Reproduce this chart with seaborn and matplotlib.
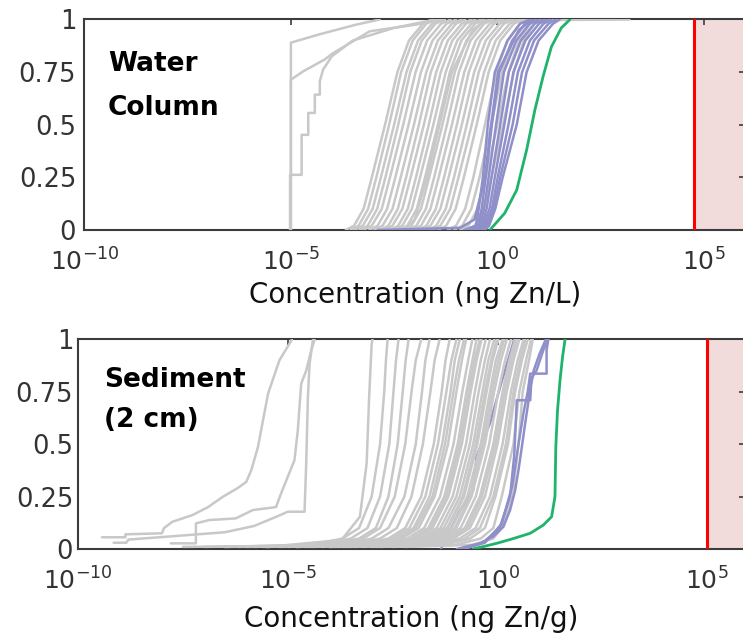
import matplotlib
matplotlib.use('Agg')
import numpy as np
import pandas as pd
import seaborn as sns
import matplotlib.pyplot as plt
from matplotlib.ticker import NullLocator

# ---- data: log10 concentration ----
# cdf levels shared by the smooth curves
top_levels = [0.0, 0.02, 0.1, 0.25, 0.5, 0.75, 0.9, 0.98, 1.0]
bot_levels = [0.01, 0.02, 0.05, 0.1, 0.25, 0.5, 0.75, 0.9, 1.0]

# water column, gray runs (one row per run, values at top_levels)
top_gray = [
    [-3.67, -3.47, -3.24, -3.04, -2.72, -2.42, -2.14, -1.80, -1.57],
    [-3.55, -3.36, -3.13, -2.93, -2.62, -2.33, -2.05, -1.72, -1.50],
    [-3.46, -3.26, -3.02, -2.82, -2.50, -2.20, -1.92, -1.58, -1.35],
    [-3.34, -3.14, -2.91, -2.71, -2.40, -2.11, -1.83, -1.50, -1.27],
    [-3.24, -3.04, -2.80, -2.60, -2.28, -1.98, -1.70, -1.36, -1.13],
    [-3.10, -2.90, -2.67, -2.47, -2.15, -1.85, -1.57, -1.23, -1.00],
    [-2.98, -2.78, -2.54, -2.34, -2.02, -1.72, -1.44, -1.10, -0.87],
    [-2.84, -2.64, -2.41, -2.21, -1.90, -1.61, -1.33, -1.00, -0.78],
    [-2.74, -2.54, -2.30, -2.10, -1.78, -1.48, -1.20, -0.86, -0.63],
    [-2.60, -2.40, -2.17, -1.97, -1.66, -1.37, -1.09, -0.76, -0.53],
    [-2.50, -2.30, -2.07, -1.87, -1.55, -1.25, -0.97, -0.63, -0.40],
    [-2.38, -2.18, -1.95, -1.75, -1.44, -1.15, -0.87, -0.54, -0.32],
    [-2.28, -2.08, -1.85, -1.65, -1.33, -1.03, -0.75, -0.41, -0.18],
    [-2.16, -1.96, -1.73, -1.53, -1.22, -0.93, -0.65, -0.32, -0.10],
    [-2.05, -1.85, -1.62, -1.42, -1.10, -0.80, -0.52, -0.18, 0.05],
    [-1.92, -1.72, -1.49, -1.29, -0.98, -0.69, -0.41, -0.08, 0.14],
    [-1.82, -1.62, -1.38, -1.18, -0.86, -0.56, -0.28, 0.06, 0.29],
    [-1.68, -1.48, -1.25, -1.05, -0.74, -0.45, -0.17, 0.16, 0.38],
    [-1.58, -1.38, -1.14, -0.94, -0.62, -0.32, -0.04, 0.30, 0.53],
    [-1.44, -1.24, -1.01, -0.81, -0.50, -0.21, 0.07, 0.40, 0.62],
    [-1.20, -1.00, -0.78, -0.58, -0.30, -0.02, 0.24, 0.55, 0.75],
    [-1.05, -0.85, -0.63, -0.43, -0.15, 0.12, 0.38, 0.68, 0.88],
    [-0.90, -0.70, -0.48, -0.28, 0.00, 0.27, 0.52, 0.80, 0.98],
    [-0.75, -0.55, -0.34, -0.14, 0.14, 0.40, 0.64, 0.90, 1.05],
]
# water column, gray runs with their own steps
top_step_a_x = [-5.0, -5.0, -4.3, -3.41, -2.85]
top_step_a_y = [0.0, 0.89, 0.93, 0.976, 1.0]
top_step_b_x = [-5.0, -5.0, -4.70, -4.18, -3.98, -3.09, -1.96, -1.40]
top_step_b_y = [0.0, 0.714, 0.754, 0.81, 0.84, 0.944, 0.976, 1.0]
top_step_c_x = [-5.02, -5.02, -4.74, -4.74, -4.58, -4.58, -4.42, -4.42,
                -4.30, -4.30, -4.22, -4.01, -3.50, -2.50, -1.50]
top_step_c_y = [0.0, 0.262, 0.262, 0.452, 0.452, 0.556, 0.556, 0.643,
                0.643, 0.706, 0.762, 0.825, 0.90, 0.96, 1.0]
top_tail_x = [-2.30, -2.00, -1.70, -1.40, -1.10, -0.60, -0.30, 3.20]
top_tail_y = [0.0, 0.05, 0.25, 0.5, 0.75, 0.95, 0.995, 1.0]

# water column, purple runs (values at top_levels)
top_purple = [
    [-0.80, -0.52, -0.45, -0.35, -0.23, -0.06, 0.25, 0.55, 0.79],
    [-0.73, -0.47, -0.38, -0.28, -0.13, 0.05, 0.36, 0.67, 0.89],
    [-0.66, -0.43, -0.32, -0.21, -0.03, 0.16, 0.46, 0.78, 0.99],
    [-0.59, -0.38, -0.26, -0.14, 0.07, 0.28, 0.57, 0.90, 1.10],
    [-0.52, -0.34, -0.19, -0.06, 0.17, 0.39, 0.68, 1.01, 1.20],
    [-0.45, -0.29, -0.13, 0.01, 0.27, 0.50, 0.79, 1.12, 1.30],
    [-0.37, -0.25, -0.09, 0.07, 0.37, 0.60, 0.89, 1.24, 1.41],
    [-0.30, -0.20, -0.05, 0.13, 0.47, 0.71, 1.00, 1.35, 1.51],
]
top_purple_tail_x = [-2.90, -0.90, -0.55, -0.30, -0.15, 0.02, 0.52, 0.85]
top_purple_tail_y = [0.0, 0.01, 0.05, 0.25, 0.5, 0.75, 0.95, 1.0]

top_green_x = [-0.18, 0.18, 0.47, 0.71, 0.91, 1.11, 1.31, 1.55, 1.76]
top_green_y = [0.0, 0.08, 0.19, 0.38, 0.57, 0.73, 0.87, 0.96, 1.0]

# sediment, gray runs (values at bot_levels)
bot_gray = [
    [-6.5, -4.40, -3.70, -3.30, -3.00, -2.80, -2.70, -2.66, -2.62],
    [-6.2, -4.20, -3.50, -3.10, -2.80, -2.58, -2.48, -2.42, -2.36],
    [-5.8, -4.00, -3.30, -2.90, -2.60, -2.38, -2.26, -2.19, -2.12],
    [-5.5, -3.90, -3.20, -2.80, -2.45, -2.20, -2.05, -1.95, -1.82],
    [-7.0, -3.70, -3.00, -2.60, -2.22, -1.95, -1.80, -1.72, -1.62],
    [-5.0, -3.50, -2.80, -2.40, -2.05, -1.78, -1.60, -1.50, -1.38],
    [-6.0, -3.30, -2.60, -2.20, -1.82, -1.52, -1.33, -1.24, -1.14],
    [-4.6, -3.20, -2.50, -2.10, -1.72, -1.42, -1.22, -1.10, -0.98],
    [-4.8, -3.10, -2.40, -2.00, -1.62, -1.32, -1.12, -1.02, -0.90],
    [-5.6, -3.05, -2.35, -1.95, -1.55, -1.25, -1.05, -0.92, -0.80],
    [-5.5, -3.00, -2.28, -1.88, -1.50, -1.18, -0.98, -0.85, -0.75],
    [-4.5, -2.85, -2.15, -1.75, -1.37, -1.05, -0.84, -0.70, -0.60],
    [-7.5, -2.75, -2.05, -1.65, -1.27, -0.95, -0.74, -0.60, -0.50],
    [-4.4, -2.70, -2.00, -1.60, -1.22, -0.90, -0.69, -0.55, -0.42],
    [-4.2, -2.65, -1.95, -1.55, -1.17, -0.85, -0.64, -0.50, -0.38],
    [-5.2, -2.55, -1.85, -1.45, -1.07, -0.75, -0.54, -0.40, -0.28],
    [-4.0, -2.46, -1.76, -1.36, -0.98, -0.66, -0.45, -0.30, -0.18],
    [-6.5, -2.38, -1.68, -1.28, -0.90, -0.58, -0.36, -0.22, -0.08],
    [-3.9, -2.30, -1.60, -1.20, -0.83, -0.52, -0.30, -0.15, -0.02],
    [-3.8, -2.28, -1.58, -1.18, -0.80, -0.48, -0.26, -0.12, 0.02],
    [-4.8, -2.20, -1.50, -1.10, -0.72, -0.40, -0.18, -0.04, 0.12],
    [-3.7, -2.10, -1.42, -1.02, -0.66, -0.35, -0.13, 0.02, 0.16],
    [-3.5, -2.05, -1.38, -0.98, -0.62, -0.30, -0.08, 0.08, 0.22],
    [-4.0, -1.95, -1.28, -0.88, -0.52, -0.20, 0.02, 0.18, 0.32],
    [-3.2, -1.85, -1.18, -0.78, -0.42, -0.10, 0.12, 0.28, 0.42],
    [-3.4, -1.75, -1.10, -0.72, -0.37, -0.05, 0.17, 0.33, 0.46],
    [-3.6, -1.70, -1.05, -0.66, -0.30, 0.00, 0.22, 0.38, 0.52],
    [-3.0, -1.50, -0.90, -0.52, -0.18, 0.12, 0.32, 0.48, 0.62],
    [-2.9, -1.35, -0.78, -0.42, -0.10, 0.20, 0.38, 0.54, 0.66],
    [-2.8, -1.25, -0.65, -0.30, -0.05, 0.25, 0.42, 0.58, 0.72],
    [-2.5, -1.00, -0.40, -0.10, 0.10, 0.38, 0.52, 0.68, 0.80],
    [-2.2, -0.60, -0.10, 0.10, 0.36, 0.50, 0.60, 0.75, 0.84],
]
bot_l1_x = [-9.43, -8.87, -8.87, -8.00, -7.95, -7.75, -7.27, -6.90, -6.55,
            -6.20, -5.99, -5.87, -5.71, -5.47, -5.20, -4.96, -4.90]
bot_l1_y = [0.056, 0.056, 0.07, 0.075, 0.10, 0.13, 0.162, 0.20, 0.249,
            0.29, 0.32, 0.376, 0.487, 0.741, 0.90, 0.98, 1.0]
bot_l2_x = [-7.79, -7.19, -7.19, -6.88, -6.24, -5.83, -5.28, -5.16, -4.84,
            -4.76, -4.68, -4.56, -4.44, -4.36]
bot_l2_y = [0.027, 0.027, 0.122, 0.138, 0.146, 0.186, 0.20, 0.265, 0.424,
            0.567, 0.789, 0.852, 0.948, 1.0]
bot_l3_x = [-9.15, -8.85, -8.80, -7.80, -6.50, -5.80, -5.20, -5.00, -4.60,
            -4.56, -4.52, -4.48, -4.40]
bot_l3_y = [0.03, 0.03, 0.045, 0.06, 0.08, 0.11, 0.16, 0.178, 0.178,
            0.408, 0.725, 0.884, 1.0]
bot_g1_x = [-5.50, -3.72, -3.28, -3.12, -3.06, -3.00, -2.98]
bot_g1_y = [0.01, 0.043, 0.154, 0.408, 0.725, 0.98, 1.0]

# sediment, purple runs
bot_p1_x = [-0.97, -0.42, -0.10, 0.14, 0.30, 0.42, 0.50, 0.58, 0.66, 0.73,
            0.78, 0.93, 1.09, 1.21]
bot_p1_y = [0.0, 0.027, 0.06, 0.106, 0.186, 0.28, 0.376, 0.487, 0.60, 0.694,
            0.805, 0.852, 0.948, 1.0]
bot_p2_x = [-0.85, -0.35, 0.05, 0.30, 0.40, 0.46, 0.78, 0.80, 0.86, 1.00, 1.15]
bot_p2_y = [0.0, 0.03, 0.10, 0.25, 0.45, 0.71, 0.71, 0.78, 0.85, 0.93, 1.0]
bot_p3_x = [-0.80, -0.30, 0.10, 0.35, 0.50, 0.62, 0.72, 0.78, 1.17, 1.17, 1.21]
bot_p3_y = [0.0, 0.03, 0.12, 0.30, 0.50, 0.65, 0.75, 0.837, 0.837, 0.948, 1.0]
bot_p4_x = [-1.35, -1.13, -0.89, -0.58, -0.50, -0.38, -0.18, 0.10, 0.40]
bot_p4_y = [0.0, 0.09, 0.186, 0.28, 0.44, 0.503, 0.60, 0.80, 1.0]

bot_green_x = [-0.58, -0.02, 0.38, 0.78, 1.09, 1.29, 1.37, 1.39, 1.43, 1.49,
               1.55, 1.61]
bot_green_y = [0.0, 0.027, 0.05, 0.075, 0.114, 0.154, 0.25, 0.487, 0.66,
               0.805, 0.916, 1.0]

# threshold (red line) for each compartment
top_threshold = 5.8e4
bot_threshold = 1.0e5

x_ticks = [1e-10, 1e-5, 1e0, 1e5]
x_tick_labels = ['$10^{-10}$', '$10^{-5}$', '$10^{0}$', '$10^{5}$']
y_ticks = [0, 0.25, 0.5, 0.75, 1]
y_tick_labels = ['0', '0.25', '0.5', '0.75', '1']

palette = {'gray': '#c8c8c8', 'purple_under': '#8f8fca', 'purple': '#8f8fca',
           'green': '#1fb36b'}


def to_frame(runs, group):
    rows = []
    for k, (xs, ys) in enumerate(runs):
        for x, y in zip(xs, ys):
            rows.append((10.0 ** x, y, f'{group}{k}', group))
    return pd.DataFrame(rows, columns=['conc', 'cdf', 'run', 'group'])


top_df = pd.concat([
    to_frame([(r, top_levels) for r in top_gray]
             + [(top_step_a_x, top_step_a_y), (top_step_b_x, top_step_b_y),
                (top_step_c_x, top_step_c_y), (top_tail_x, top_tail_y)], 'gray'),
    to_frame([(r, top_levels) for r in top_purple]
             + [(top_purple_tail_x, top_purple_tail_y)], 'purple'),
])
top_green = to_frame([(top_green_x, top_green_y)], 'green')

bot_df = pd.concat([
    to_frame([(bot_p4_x, bot_p4_y)], 'purple_under'),
    to_frame([(r, bot_levels) for r in bot_gray]
             + [(bot_l1_x, bot_l1_y), (bot_l2_x, bot_l2_y),
                (bot_l3_x, bot_l3_y), (bot_g1_x, bot_g1_y)], 'gray'),
    to_frame([(bot_p1_x, bot_p1_y), (bot_p2_x, bot_p2_y),
              (bot_p3_x, bot_p3_y)], 'purple'),
])
bot_green = to_frame([(bot_green_x, bot_green_y)], 'green')

sns.set_style('white')
plt.rcParams['font.family'] = ['DejaVu Sans']
plt.rcParams['mathtext.default'] = 'regular'

fig = plt.figure(figsize=(7.43, 6.33), dpi=100)
ax_top = fig.add_axes([0.1137, 0.6367, 0.889, 0.3325])
ax_bot = fig.add_axes([0.1050, 0.1327, 0.8977, 0.3310])

panels = [
    (ax_top, top_df, top_green, top_threshold, 10 ** 6.0,
     'Concentration (ng Zn/L)', ['Water', 'Column'], 0.0356, [0.754, 0.548], 6, -0.345),
    (ax_bot, bot_df, bot_green, bot_threshold, 10 ** 5.9,
     'Concentration (ng Zn/g)', ['Sediment', '(2 cm)'], 0.039, [0.773, 0.582], 3.5, -0.37),
]

for ax, df, green, thr, xmax, xlabel, words, tx, ty, ypad, ly in panels:
    ax.axvspan(thr, 1e8, color='#f2dcdb', lw=0, zorder=0)
    ax.axvline(thr, color='#ff0000', lw=2.2, zorder=4)
    order = [g for g in ['purple_under', 'gray', 'purple'] if g in set(df['group'])]
    sns.lineplot(data=df, x='conc', y='cdf', hue='group', hue_order=order,
                 units='run', estimator=None, sort=False, palette=palette,
                 legend=False, linewidth=1.8, zorder=3, ax=ax)
    sns.lineplot(data=green, x='conc', y='cdf', units='run', estimator=None,
                 sort=False, color=palette['green'], legend=False,
                 linewidth=2.0, zorder=3, ax=ax)
    ax.set_xscale('log')
    ax.set_xlim(1e-10, xmax)
    ax.set_ylim(0, 1)
    ax.set_xticks(x_ticks)
    ax.set_xticklabels(x_tick_labels)
    ax.xaxis.set_minor_locator(NullLocator())
    ax.set_yticks(y_ticks)
    ax.set_yticklabels(y_tick_labels)
    ax.tick_params(direction='in', top=True, right=True, length=4, width=1.2,
                   color='#3c3c3c', labelcolor='#333333', labelsize=18.5)
    ax.tick_params(axis='x', pad=13, labelsize=18)
    ax.tick_params(axis='y', pad=ypad)
    for s in ax.spines.values():
        s.set_color('#3c3c3c')
        s.set_linewidth(1.5)
    ax.set_ylabel('')
    ax.set_xlabel(xlabel, fontsize=20, color='#111111')
    ax.xaxis.set_label_coords(0.5, ly)
    ax.xaxis.label.set_va('baseline')
    for word, yy in zip(words, ty):
        ax.text(tx, yy, word, transform=ax.transAxes, fontsize=19,
                fontweight='bold', va='baseline', ha='left', color='black')

plt.savefig('out.png', dpi=100)
